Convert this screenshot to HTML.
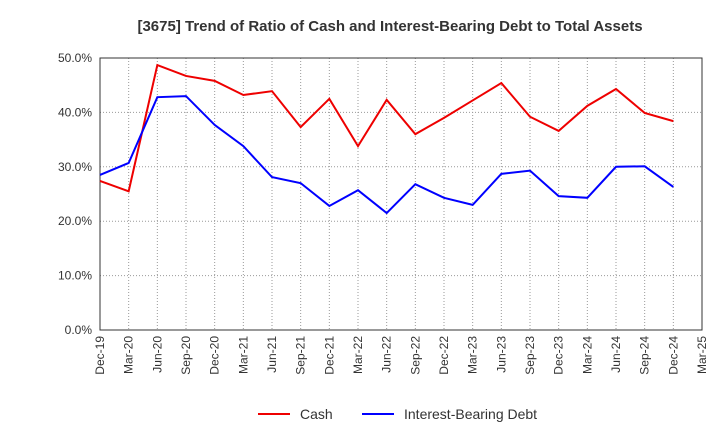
<!DOCTYPE html>
<html><head><meta charset="utf-8"><style>
body{margin:0;background:#fff;font-family:"Liberation Sans",sans-serif}
</style></head><body>
<svg id="chart" width="720" height="440" xmlns="http://www.w3.org/2000/svg" font-family="Liberation Sans, sans-serif">
<text x="390" y="31" text-anchor="middle" font-size="15" font-weight="bold" fill="#333">[3675]  Trend of Ratio of Cash and Interest-Bearing Debt to Total Assets</text>
<g id="grid"></g><g id="axes"></g><g id="series"></g>
<g>
<line x1="258" y1="414" x2="290" y2="414" stroke="#e00" stroke-width="2"/>
<text x="300" y="419" font-size="14" fill="#333">Cash</text>
<line x1="362" y1="414" x2="394" y2="414" stroke="#00f" stroke-width="2"/>
<text x="404" y="419" font-size="14" fill="#333">Interest-Bearing Debt</text>
</g>
</svg>
<script>
const xLabels=["Dec-19","Mar-20","Jun-20","Sep-20","Dec-20","Mar-21","Jun-21","Sep-21","Dec-21","Mar-22","Jun-22","Sep-22","Dec-22","Mar-23","Jun-23","Sep-23","Dec-23","Mar-24","Jun-24","Sep-24","Dec-24","Mar-25"];
const yTicks=[0,10,20,30,40,50];
const cash=[27.4,25.5,48.7,46.7,45.8,43.2,43.9,37.3,42.5,33.8,42.3,36.0,39.0,42.2,45.4,39.2,36.6,41.2,44.3,39.9,38.4];
const debt=[28.5,30.7,42.8,43.0,37.7,33.8,28.1,27.0,22.8,25.7,21.5,26.8,24.3,23.0,28.7,29.3,24.6,24.3,30.0,30.1,26.3];
const L=100,R=702,T=58,B=330,NS="http://www.w3.org/2000/svg";
const xs=i=>L+i*(R-L)/(xLabels.length-1);
const ys=v=>B-(v/50)*(B-T);
function mk(tag,attrs,parent){const e=document.createElementNS(NS,tag);for(const k in attrs)e.setAttribute(k,attrs[k]);document.getElementById(parent).appendChild(e);return e;}
xLabels.forEach((lab,i)=>{const x=xs(i);
 const g=mk("line",{x1:x,y1:T,x2:x,y2:B,stroke:"#999","stroke-dasharray":"1,2","stroke-width":1},"grid");
 
 
 const t=mk("text",{x:0,y:0,transform:`translate(${x+4},${B+6}) rotate(-90)`,"text-anchor":"end","font-size":12,fill:"#333"},"axes");
 t.textContent=lab;
 
 
});
yTicks.forEach(v=>{const y=ys(v);
 const g=mk("line",{x1:L,y1:y,x2:R,y2:y,stroke:"#999","stroke-dasharray":"1,2","stroke-width":1},"grid");
 
 
 const t=mk("text",{x:L-8,y:y+4,"text-anchor":"end","font-size":12,fill:"#333"},"axes");
 t.textContent=v.toFixed(1)+"%";
 
 
});
const f=mk("rect",{x:L,y:T,width:R-L,height:B-T,fill:"none",stroke:"#333","stroke-width":1},"axes");


function line(data,color,name){
 const p=mk("polyline",{points:data.map((v,i)=>xs(i)+","+ys(v)).join(" "),fill:"none",stroke:color,"stroke-width":2},"series");
 
 
}
line(cash,"#e00","cash-line");
line(debt,"#00f","debt-line");
</script>
</body></html>
